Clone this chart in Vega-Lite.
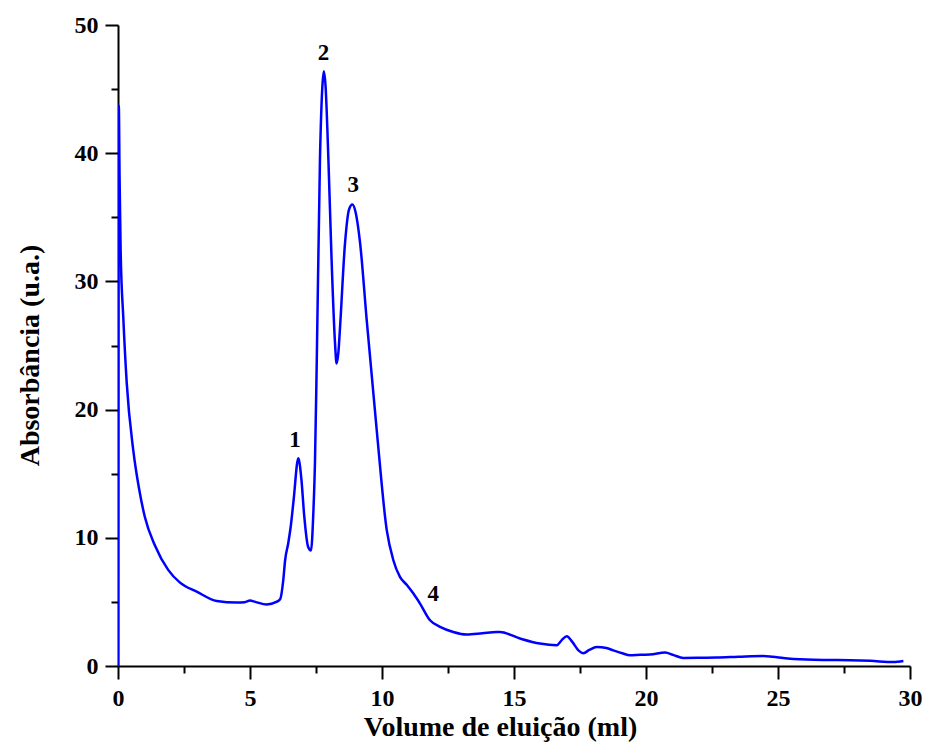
{
  "$schema": "https://vega.github.io/schema/vega-lite/v6.json",
  "width": 792,
  "height": 641,
  "autosize": {"type": "none"},
  "padding": {"left": 118, "top": 25, "right": 16, "bottom": 78},
  "background": "white",
  "config": {
    "view": {"stroke": null},
    "axis": {
      "labelFont": "Liberation Serif",
      "labelFontWeight": "bold",
      "labelFontSize": 24,
      "labelColor": "black",
      "labelFlush": false,
      "titleFont": "Liberation Serif",
      "titleFontWeight": "bold",
      "titleFontSize": 28,
      "titleColor": "black",
      "domainColor": "black",
      "domainWidth": 2,
      "tickColor": "black",
      "tickWidth": 2,
      "grid": false
    }
  },
  "datasets": {
    "curve": [
      {"v": 0, "a": 0},
      {"v": 0.01, "a": 20},
      {"v": 0.03, "a": 43.7},
      {"v": 0.06, "a": 38},
      {"v": 0.1, "a": 32.4},
      {"v": 0.2, "a": 27.2},
      {"v": 0.33, "a": 22.1},
      {"v": 0.58, "a": 16.8},
      {"v": 0.8, "a": 13.8},
      {"v": 1.02, "a": 11.6},
      {"v": 1.4, "a": 9.4},
      {"v": 1.9, "a": 7.5},
      {"v": 2.35, "a": 6.5},
      {"v": 2.98, "a": 5.8},
      {"v": 3.74, "a": 5.07},
      {"v": 4.5, "a": 4.95},
      {"v": 4.8, "a": 4.98},
      {"v": 5.0, "a": 5.1},
      {"v": 5.2, "a": 5.0},
      {"v": 5.63, "a": 4.8},
      {"v": 6.0, "a": 5.0},
      {"v": 6.14, "a": 5.2},
      {"v": 6.26, "a": 6.7},
      {"v": 6.33, "a": 8.25},
      {"v": 6.45, "a": 9.6},
      {"v": 6.55, "a": 11.0},
      {"v": 6.65, "a": 12.9},
      {"v": 6.83, "a": 16.2},
      {"v": 6.95, "a": 14.5},
      {"v": 7.05, "a": 11.8},
      {"v": 7.2, "a": 9.3},
      {"v": 7.31, "a": 9.0},
      {"v": 7.4, "a": 12.0},
      {"v": 7.46, "a": 15.8},
      {"v": 7.53, "a": 23.9},
      {"v": 7.65, "a": 39.5},
      {"v": 7.75, "a": 45.5},
      {"v": 7.8, "a": 46.4},
      {"v": 7.86, "a": 45.3},
      {"v": 7.97, "a": 39.5},
      {"v": 8.09, "a": 31.7},
      {"v": 8.22, "a": 25.2},
      {"v": 8.28, "a": 23.6},
      {"v": 8.35, "a": 24.5},
      {"v": 8.41, "a": 26.4},
      {"v": 8.6, "a": 33.0},
      {"v": 8.75, "a": 35.6},
      {"v": 8.88, "a": 36.0},
      {"v": 9.0, "a": 35.4},
      {"v": 9.17, "a": 33.0},
      {"v": 9.42, "a": 27.0},
      {"v": 9.8, "a": 18.4},
      {"v": 10.18, "a": 10.6},
      {"v": 10.43, "a": 8.25},
      {"v": 10.68, "a": 6.95},
      {"v": 10.95, "a": 6.3},
      {"v": 11.19, "a": 5.65},
      {"v": 11.44, "a": 4.87},
      {"v": 11.82, "a": 3.57},
      {"v": 12.2, "a": 3.05},
      {"v": 12.7, "a": 2.65},
      {"v": 13.2, "a": 2.45},
      {"v": 13.8, "a": 2.55},
      {"v": 14.34, "a": 2.65},
      {"v": 14.47, "a": 2.65},
      {"v": 15.23, "a": 2.14},
      {"v": 15.98, "a": 1.75},
      {"v": 16.62, "a": 1.62},
      {"v": 16.8, "a": 2.0},
      {"v": 17.0, "a": 2.32},
      {"v": 17.2, "a": 1.9},
      {"v": 17.45, "a": 1.2},
      {"v": 17.63, "a": 1.0},
      {"v": 17.85, "a": 1.25},
      {"v": 18.13, "a": 1.48},
      {"v": 18.5, "a": 1.4},
      {"v": 18.76, "a": 1.22},
      {"v": 19.1, "a": 1.0},
      {"v": 19.39, "a": 0.84},
      {"v": 19.8, "a": 0.88},
      {"v": 20.15, "a": 0.89},
      {"v": 20.72, "a": 1.05},
      {"v": 21.05, "a": 0.85},
      {"v": 21.41, "a": 0.63},
      {"v": 22.0, "a": 0.64},
      {"v": 22.68, "a": 0.66},
      {"v": 23.5, "a": 0.72},
      {"v": 24.44, "a": 0.78},
      {"v": 24.8, "a": 0.72},
      {"v": 25.2, "a": 0.63},
      {"v": 25.6, "a": 0.55},
      {"v": 26.08, "a": 0.5},
      {"v": 27.0, "a": 0.47},
      {"v": 27.73, "a": 0.45},
      {"v": 28.5, "a": 0.4},
      {"v": 29.37, "a": 0.31},
      {"v": 29.75, "a": 0.39}
    ],
    "labels": [
      {"v": 6.7, "a": 17.6, "t": "1"},
      {"v": 7.78, "a": 47.8, "t": "2"},
      {"v": 8.91, "a": 37.5, "t": "3"},
      {"v": 11.94, "a": 5.65, "t": "4"}
    ]
  },
  "layer": [
    {
      "data": {"name": "curve"},
      "mark": {"type": "line", "color": "#0000FF", "strokeWidth": 2.5, "interpolate": "monotone", "clip": true},
      "encoding": {
        "x": {
          "field": "v", "type": "quantitative",
          "scale": {"domain": [0, 30], "nice": false, "zero": false},
          "axis": {
            "title": "Volume de eluição (ml)",
            "values": [0, 2.5, 5, 7.5, 10, 12.5, 15, 17.5, 20, 22.5, 25, 27.5, 30],
            "labelExpr": "datum.value % 5 === 0 ? datum.label : ''",
            "tickSize": {"condition": {"test": "datum.value % 5 === 0", "value": 13}, "value": 7},
            "labelPadding": 7,
            "titlePadding": 3,
            "titleX": 382
          }
        },
        "y": {
          "field": "a", "type": "quantitative",
          "scale": {"domain": [0, 50], "nice": false},
          "axis": {
            "title": "Absorbância (u.a.)",
            "values": [0, 5, 10, 15, 20, 25, 30, 35, 40, 45, 50],
            "labelExpr": "datum.value % 10 === 0 ? datum.label : ''",
            "tickSize": {"condition": {"test": "datum.value % 10 === 0", "value": 13}, "value": 7},
            "labelPadding": 7,
            "titlePadding": 30,
            "titleY": 330
          }
        }
      }
    },
    {
      "data": {"name": "labels"},
      "mark": {"type": "text", "font": "Liberation Serif", "fontWeight": "bold", "fontSize": 23, "color": "black", "baseline": "middle", "align": "center"},
      "encoding": {
        "x": {"field": "v", "type": "quantitative"},
        "y": {"field": "a", "type": "quantitative"},
        "text": {"field": "t"}
      }
    }
  ]
}
